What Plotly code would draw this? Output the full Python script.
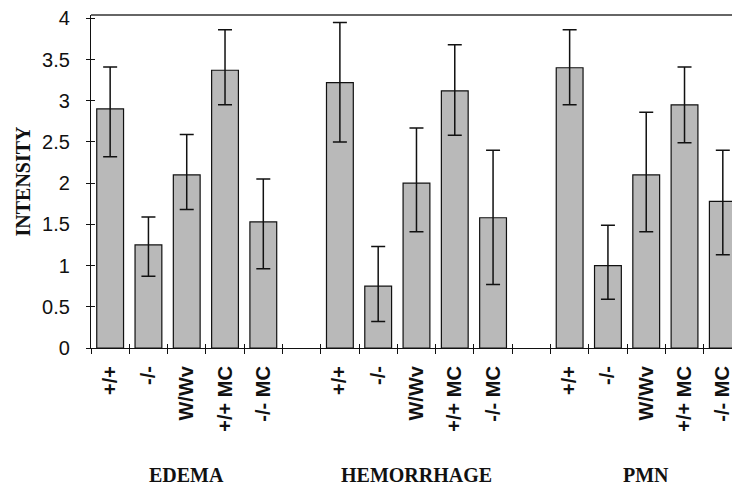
import plotly.graph_objects as go

groups = ["EDEMA", "HEMORRHAGE", "PMN"]
strains = ["+/+", "-/-", "W/Wv", "+/+ MC", "-/- MC"]

edema = [2.90, 1.25, 2.10, 3.37, 1.53]
edema_hi = [3.41, 1.59, 2.59, 3.86, 2.05]
edema_lo = [2.32, 0.87, 1.68, 2.95, 0.96]

hemorrhage = [3.22, 0.75, 2.00, 3.12, 1.58]
hemorrhage_hi = [3.95, 1.23, 2.67, 3.68, 2.40]
hemorrhage_lo = [2.50, 0.32, 1.41, 2.58, 0.77]

pmn = [3.40, 1.00, 2.10, 2.95, 1.78]
pmn_hi = [3.86, 1.49, 2.86, 3.41, 2.40]
pmn_lo = [2.95, 0.59, 1.41, 2.49, 1.13]

y_ticks = [0, 0.5, 1, 1.5, 2, 2.5, 3, 3.5, 4]
y_tick_text = ["0", "0.5", "1", "1.5", "2", "2.5", "3", "3.5", "4"]

series = [(edema, edema_hi, edema_lo), (hemorrhage, hemorrhage_hi, hemorrhage_lo), (pmn, pmn_hi, pmn_lo)]

xs, ys, plus, minus, labels = [], [], [], [], []
for gi, (vals, hi, lo) in enumerate(series):
    for si, v in enumerate(vals):
        xs.append(gi * 6 + si)
        ys.append(v)
        plus.append(hi[si] - v)
        minus.append(v - lo[si])
        labels.append(strains[si])

group_centers = [gi * 6 + 2 for gi in range(len(groups))]
boundaries = [i - 0.5 for i in range(18)]

sans = "Liberation Sans, Arial, sans-serif"
serif = "Liberation Serif, Times New Roman, serif"

fig = go.Figure()
fig.add_trace(go.Bar(
    x=xs, y=ys, width=0.7,
    marker=dict(color="#b9b9b9", line=dict(color="#111111", width=1.2)),
    error_y=dict(type="data", symmetric=False, array=plus, arrayminus=minus,
                 color="#111111", thickness=1.5, width=7),
    showlegend=False,
))
# invisible trace for overlay axes (cross ticks)
fig.add_trace(go.Scatter(x=[0], y=[0], xaxis="x2", yaxis="y2", mode="markers",
                         marker=dict(opacity=0), showlegend=False, hoverinfo="skip"))

xr = [-0.5, 16.24]
yr = [0, 4.04]

fig.update_layout(
    width=732, height=485,
    margin=dict(l=91, r=0, t=15, b=137, autoexpand=False),
    paper_bgcolor="white", plot_bgcolor="white",
    xaxis=dict(range=xr, tickmode="array", tickvals=xs, ticktext=["<b>" + t + "</b>" for t in labels],
               tickangle=-90, ticks="", showline=True, linecolor="#111111", linewidth=1.2,
               showgrid=False, zeroline=False, automargin=False,
               ticklabelstandoff=9, ticklabeloverflow="allow",
               tickfont=dict(family=sans, size=20, color="#111111"),
               minor=dict(tickmode="array", tickvals=boundaries, ticks="outside",
                          ticklen=5, tickcolor="#111111", tickwidth=1.2, showgrid=False)),
    yaxis=dict(range=yr, tickmode="array", tickvals=y_ticks, ticktext=y_tick_text,
               ticks="outside", ticklen=4, tickcolor="#111111", tickwidth=1.2,
               showline=True, linecolor="#111111", linewidth=1.2,
               showgrid=False, zeroline=False, ticklabelstandoff=12, automargin=False,
               tickfont=dict(family=sans, size=20, color="#111111"),
               title=dict(text="<b>INTENSITY</b>", standoff=6,
                          font=dict(family=serif, size=20, color="#111111"))),
    xaxis2=dict(range=xr, overlaying="x", anchor="y2", tickmode="array", tickvals=boundaries,
                ticks="inside", ticklen=4, tickcolor="#111111", tickwidth=1.2,
                showticklabels=False, showgrid=False, zeroline=False, showline=False),
    yaxis2=dict(range=yr, overlaying="y", anchor="x2", tickmode="array", tickvals=y_ticks,
                ticks="inside", ticklen=4, tickcolor="#111111", tickwidth=1.2,
                showticklabels=False, showgrid=False, zeroline=False, showline=False),
    bargap=0.3,
)

fig.add_shape(type="line", xref="paper", yref="paper", x0=0, x1=1, y0=1, y1=1,
              line=dict(color="#666666", width=2))

for gname, gx in zip(groups, group_centers):
    fig.add_annotation(x=gx, xref="x", y=-0.38, yref="paper", yanchor="middle",
                       text="<b>" + gname + "</b>", showarrow=False,
                       font=dict(family=serif, size=20, color="#111111"))

fig.write_html("out.html", config={"displayModeBar": False},
               post_script="document.body.style.margin='0';")
